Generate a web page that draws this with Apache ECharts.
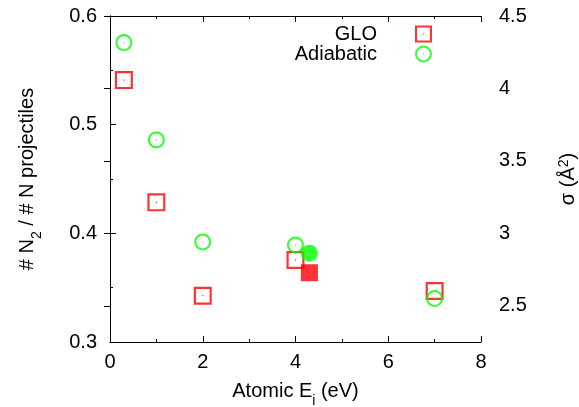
<!DOCTYPE html>
<html>
<head>
<meta charset="utf-8">
<script src="https://cdn.jsdelivr.net/npm/echarts@6/dist/echarts.min.js"></script>
<style>
html,body{margin:0;padding:0;background:#fff;}
#c{width:579px;height:407px;}
</style>
</head>
<body>
<div id="c"></div>
<script>
// ---- data ----
var energies = [0.3, 1, 2, 4, 7];
var gloFraction = [0.541, 0.4285, 0.3426, 0.3755, 0.347];
var adiabaticFraction = [0.5755, 0.486, 0.392, 0.3893, 0.340];
var sigmaEnergy = [4.3];
var gloSigma = [2.728];
var adiabaticSigma = [2.862];
var xTicks = [0, 2, 4, 6, 8];
var yTicks = [0.3, 0.4, 0.5, 0.6];
var y2Ticks = [2.5, 3, 3.5, 4, 4.5];

function pairs(xs, ys) { return xs.map(function (x, i) { return [x, ys[i]]; }); }

var FONT = 'Liberation Sans';
var FS = 20;
var RED = '#ff0000', GREEN = '#00ff00';
var squarePath = 'path://M0,0 L18,0 L18,18 L0,18 Z M2.2,2.2 L2.2,15.8 L15.8,15.8 L15.8,2.2 Z M8.4,8.4 L9.6,8.4 L9.6,9.6 L8.4,9.6 Z';
var circlePath = 'path://M0,9 A9,9 0 1,1 18,9 A9,9 0 1,1 0,9 Z M2.2,9 A6.8,6.8 0 1,0 15.8,9 A6.8,6.8 0 1,0 2.2,9 Z M8.4,8.4 L9.6,8.4 L9.6,9.6 L8.4,9.6 Z';

var axisLine = { show: true, lineStyle: { color: '#000', width: 1 } };
var labelStyle = { color: '#000', fontFamily: FONT, fontSize: FS };
var subRich = { sub: { fontSize: 14, fontFamily: FONT, color: '#000', verticalAlign: 'top', lineHeight: 8, padding: [14, 0, 0, 0] } };
var supRich = { sup: { fontSize: 14, fontFamily: FONT, color: '#000', verticalAlign: 'top', lineHeight: 8 } };
var legendText = { color: '#000', fontFamily: FONT, fontSize: FS, padding: [0, 33, 0, 0] };

var chart = echarts.init(document.getElementById('c'), null, { renderer: 'canvas' });
chart.setOption({
  animation: false,
  backgroundColor: '#fff',
  grid: { left: 110, right: 98, top: 16, bottom: 65, outerBoundsMode: 'none', containLabel: false },
  legend: [
    { data: ['GLO'], right: 147, top: 24, orient: 'vertical', align: 'right', padding: 0,
      itemWidth: 17, itemHeight: 17, selectedMode: false, textStyle: legendText },
    { data: ['Adiabatic'], right: 147, top: 44, orient: 'vertical', align: 'right', padding: 0,
      itemWidth: 17, itemHeight: 17, selectedMode: false, textStyle: legendText }
  ],
  xAxis: [
    { type: 'value', position: 'bottom', min: 0, max: 8, interval: 2,
      axisLine: axisLine,
      axisTick: { show: true, inside: true, length: 6, lineStyle: { color: '#000' } },
      minorTick: { show: true, splitNumber: 2, length: 3, lineStyle: { color: '#000' } },
      splitLine: { show: false },
      axisLabel: Object.assign({ margin: 10, formatter: function (v) { return String(v); } }, labelStyle),
      name: 'Atomic E{sub|i} (eV)', nameLocation: 'middle', nameGap: 38,
      nameTextStyle: { color: '#000', fontFamily: FONT, fontSize: FS, lineHeight: 22, rich: subRich }
    },
    { type: 'value', position: 'top', min: 0, max: 8, interval: 2,
      axisLine: axisLine,
      axisTick: { show: true, inside: true, length: 6, lineStyle: { color: '#000' } },
      minorTick: { show: true, splitNumber: 2, length: 3, lineStyle: { color: '#000' } },
      splitLine: { show: false },
      axisLabel: { show: false }
    }
  ],
  yAxis: [
    { type: 'value', position: 'left', min: 0.3, max: 0.6, interval: 0.1,
      axisLine: axisLine,
      axisTick: { show: true, inside: true, length: 6, lineStyle: { color: '#000' } },
      minorTick: { show: true, splitNumber: 2, length: 3, lineStyle: { color: '#000' } },
      splitLine: { show: false },
      axisLabel: Object.assign({ margin: 13, formatter: function (v) { return v.toFixed(1); } }, labelStyle),
      name: '# N{sub|2} / # N projectiles', nameLocation: 'middle', nameGap: 72, nameRotate: 90,
      nameTextStyle: { color: '#000', fontFamily: FONT, fontSize: FS, lineHeight: 22, rich: subRich }
    },
    { type: 'value', position: 'right', min: 2.25, max: 4.5,
      axisLine: axisLine,
      axisTick: { show: true, inside: true, length: 6, customValues: y2Ticks, lineStyle: { color: '#000' } },
      splitLine: { show: false },
      axisLabel: Object.assign({ margin: 18, customValues: y2Ticks, formatter: function (v) { return String(v); } }, labelStyle),
      name: 'σ (Å{sup|2})', nameLocation: 'middle', nameGap: 76, nameRotate: 90,
      nameTextStyle: { color: '#000', fontFamily: FONT, fontSize: FS, lineHeight: 22, rich: supRich }
    }
  ],
  series: [
    { name: 'GLO', type: 'scatter', xAxisIndex: 0, yAxisIndex: 0,
      data: pairs(energies, gloFraction), symbol: squarePath, symbolSize: 18,
      itemStyle: { color: RED } },
    { name: 'Adiabatic', type: 'scatter', xAxisIndex: 0, yAxisIndex: 0,
      data: pairs(energies, adiabaticFraction), symbol: circlePath, symbolSize: 17,
      itemStyle: { color: GREEN } },
    { name: 'GLO σ', type: 'scatter', xAxisIndex: 0, yAxisIndex: 1,
      data: pairs(sigmaEnergy, gloSigma), symbol: 'rect', symbolSize: 17,
      itemStyle: { color: RED } },
    { name: 'Adiabatic σ', type: 'scatter', xAxisIndex: 0, yAxisIndex: 1,
      data: pairs(sigmaEnergy, adiabaticSigma), symbol: 'circle', symbolSize: 17,
      itemStyle: { color: GREEN } }
  ]
});
</script>
</body>
</html>
